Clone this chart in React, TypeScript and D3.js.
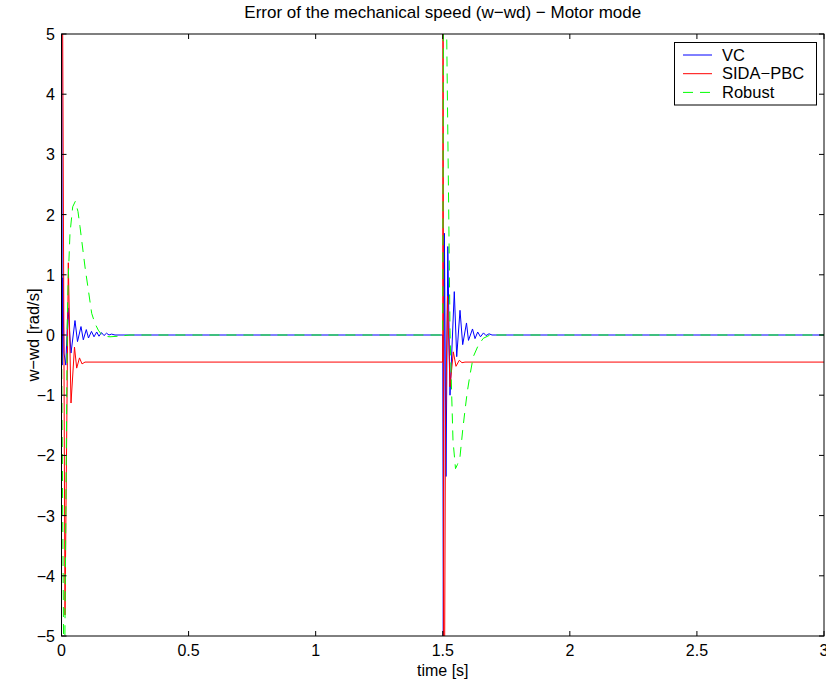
import React from "react";
import * as d3 from "d3";

// ---- data (time in s, error in rad/s) ----
const xTicks = [0, 0.5, 1, 1.5, 2, 2.5, 3];
const yTicks = [-5, -4, -3, -2, -1, 0, 1, 2, 3, 4, 5];

const vcTime = [0, 0.0028, 0.0051, 0.0098, 0.0169, 0.0256, 0.0374, 0.0531, 0.0629, 0.0767, 0.0858, 0.0976, 0.1062, 0.118, 0.1279, 0.1385, 0.1475, 0.1574, 0.1672, 0.177, 0.1869, 0.1967, 0.2105, 1.5, 1.5022, 1.5065, 1.5128, 1.5199, 1.5285, 1.5454, 1.5549, 1.5679, 1.5785, 1.5934, 1.6013, 1.6171, 1.6269, 1.6375, 1.6485, 1.6603, 1.6702, 1.682, 1.6938, 3];
const vcValue = [12, -0.5, 0.95, -0.3, -0.5, 0.45, -0.3, 0.24, -0.11, 0.14, -0.08, 0.09, -0.05, 0.06, -0.03, 0.05, -0.02, 0.04, -0.01, 0.03, 0, 0.015, 0, 0, -5.3, 1.69, -2.35, 1.47, -1.0, 0.72, -0.36, 0.41, -0.16, 0.2, -0.09, 0.1, -0.06, 0.05, -0.03, 0.035, -0.01, 0.02, 0, 0];

const sidaTime = [0, 0.0138, 0.0268, 0.0374, 0.0511, 0.0598, 0.0708, 0.0807, 0.0925, 1.5, 1.501, 1.5041, 1.5108, 1.5187, 1.5285, 1.5415, 1.5521, 1.5651, 1.5757, 1.5875, 3];
const sidaValue = [10, -4.65, 1.2, -1.13, -0.2, -0.55, -0.38, -0.48, -0.45, -0.45, 9, -9, -1.5, 0.64, -0.86, -0.28, -0.52, -0.42, -0.46, -0.45, -0.45];

const robustTime = [0, 0.009, 0.0134, 0.0228, 0.0268, 0.0334, 0.0441, 0.0543, 0.0649, 0.0728, 0.0925, 0.1188, 0.1318, 0.1448, 0.1554, 0.1672, 0.1908, 0.2223, 0.2695, 1.5, 1.5033, 1.5081, 1.5155, 1.5246, 1.5285, 1.5352, 1.5403, 1.5502, 1.558, 1.5679, 1.5785, 1.5875, 1.5966, 1.6072, 1.6202, 1.6399, 1.6596, 1.6859, 3];
const robustValue = [0, -5.6, -5, 0.25, 0.97, 1.69, 2.13, 2.22, 2.05, 1.8, 1.13, 0.36, 0.19, 0.08, 0.02, -0.02, -0.03, -0.02, 0, 0, 7, 8, 5, 1.63, 0.08, -1.0, -1.75, -2.22, -2.15, -2.02, -1.58, -1.25, -0.94, -0.66, -0.36, -0.17, -0.055, 0, 0];

const seriesNames = ["VC", "SIDA\u2212PBC", "Robust"];
const seriesColors = ["#0000ff", "#ff0000", "#00ff00"];

const W = 826;
const H = 686;
const FONT = "'Liberation Sans', Arial, Helvetica, sans-serif";

const fmt = (v: number) => String(v).replace("-", "\u2212");

export default function App() {
  const left = 61.5, right = 824, top = 34, bottom = 636;
  const x = d3.scaleLinear().domain([0, 3]).range([left, right]);
  const y = d3.scaleLinear().domain([-5, 5]).range([bottom, top]);

  const mk = (t: number[], v: number[]) =>
    d3.line<number>().x((_, i) => x(t[i])).y((_, i) => y(v[i]))(v.map((_, i) => i)) || "";

  const paths = [mk(vcTime, vcValue), mk(sidaTime, sidaValue), mk(robustTime, robustValue)];
  const dashes = [undefined, undefined, "10,7"];
  const tick = 5;

  return (
    <svg width={W} height={H} style={{ position: "absolute", left: 0, top: 0, background: "#fff" }} fontFamily={FONT}>
      <defs>
        <clipPath id="plotClip">
          <rect x={left} y={top} width={right - left} height={bottom - top} />
        </clipPath>
      </defs>
      <rect x={0} y={0} width={W} height={H} fill="#fff" />
      <g clipPath="url(#plotClip)">
        {paths.map((d, i) => (
          <path key={i} d={d} fill="none" stroke={seriesColors[i]} strokeWidth={1} strokeDasharray={dashes[i]} />
        ))}
      </g>
      {/* axes box */}
      <rect x={left} y={top} width={right - left} height={bottom - top} fill="none" stroke="#000" strokeWidth={1} />
      {xTicks.map((t) => (
        <g key={"x" + t}>
          <line x1={x(t)} x2={x(t)} y1={bottom} y2={bottom - tick} stroke="#000" />
          <line x1={x(t)} x2={x(t)} y1={top} y2={top + tick} stroke="#000" />
          <text x={x(t)} y={656} fontSize={16} textAnchor="middle">{fmt(t)}</text>
        </g>
      ))}
      {yTicks.map((v) => (
        <g key={"y" + v}>
          <line x1={left} x2={left + tick} y1={y(v)} y2={y(v)} stroke="#000" />
          <line x1={right} x2={right - tick} y1={y(v)} y2={y(v)} stroke="#000" />
          <text x={55} y={y(v) + 6} fontSize={16} textAnchor="end">{fmt(v)}</text>
        </g>
      ))}
      <text x={(left + right) / 2} y={18} fontSize={17} textAnchor="middle">
        Error of the mechanical speed (w{"\u2212"}wd) {"\u2212"} Motor mode
      </text>
      <text x={(left + right) / 2} y={676} fontSize={16} textAnchor="middle">time [s]</text>
      <text transform={`translate(39, ${(top + bottom) / 2}) rotate(-90)`} fontSize={16.5} textAnchor="middle">
        w{"\u2212"}wd [rad/s]
      </text>
      {/* legend */}
      <g>
        <rect x={674.5} y={42.5} width={142} height={62.5} fill="#fff" stroke="#000" strokeWidth={1} />
        {seriesNames.map((n, i) => (
          <g key={n}>
            <line x1={683} x2={712} y1={55 + i * 18.7} y2={55 + i * 18.7} stroke={seriesColors[i]} strokeWidth={1} strokeDasharray={dashes[i]} />
            <text x={722} y={55 + i * 18.7 + 5.5} fontSize={16.5}>{n}</text>
          </g>
        ))}
      </g>
    </svg>
  );
}
